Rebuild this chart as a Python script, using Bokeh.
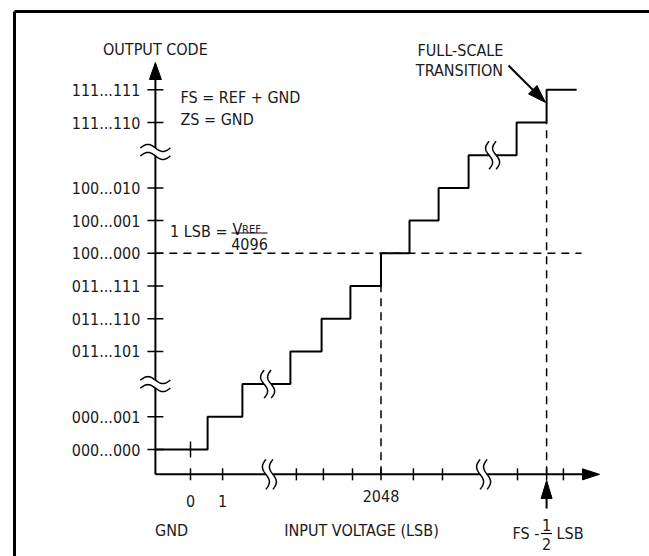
import numpy as np
from bokeh.plotting import figure
from bokeh.models import Range1d
from bokeh.core.properties import value
from bokeh.embed import file_html
from bokeh.resources import INLINE

# ---------------- data (diagram units: x = input LSB slot, y = output code slot) ----------------
code_labels = ["111...111", "111...110", "100...010", "100...001", "100...000",
               "011...111", "011...110", "011...101", "000...001", "000...000"]
code_slots = [11, 10, 8, 7, 6, 5, 4, 3, 1, 0]

x_tick_slots = [0, 1.07, 3.53, 4.43, 5.4, 6.35, 7.43, 8.4, 10.9, 11.87, 12.43]
x_label_slots = [0, 1.07, 6.35]
x_label_texts = ["0", "1", "2048"]

step_edges = [0.57, 1.73, 3.33, 4.37, 5.33, 6.35, 7.3, 8.27, 9.27, 10.87, 11.87]
step_levels = [0, 1, 2, 3, 4, 5, 6, 7, 8, 9, 10, 11]
step_end = 12.87

y_axis_x = -1.17
x_axis_y = -0.76
y_axis_breaks = [2.0, 9.1]
x_axis_breaks = [2.63, 9.77]
step_break_x = [2.57, 10.07]
step_break_level = [2, 9]

midscale_code = 6      # 100...000
midscale_input = 6.35  # 2048
fs_input = 11.87       # FS - 1/2 LSB
fs_code = 10

# ---------------- layout helpers ----------------
W, H = 649, 556
PXX, PXY = 30.0, 32.7          # pixels per diagram unit
ORX, ORY = 190.0, 449.0        # canvas pixel of (0, 0)


def dx(px):
    return px / PXX


def dy(px):
    return px / PXY


def X(px):  # canvas pixel -> data
    return (px - ORX) / PXX


def Y(py):
    return (ORY - py) / PXY


FONT = value("DejaVu Sans Condensed, Roboto")
FS = "16px"
TC = "#1a1a1a"

p = figure(width=W, height=H, x_range=Range1d(-ORX / PXX, (W - ORX) / PXX),
           y_range=Range1d((ORY - H) / PXY, ORY / PXY),
           toolbar_location=None, output_backend="svg",
           x_axis_type=None, y_axis_type=None, min_border=0)
p.grid.visible = False
p.outline_line_color = None
p.background_fill_color = "white"

K = "black"

# frame border (top and left visible)
p.segment(x0=[X(14), X(14)], y0=[Y(11), Y(11)], x1=[X(720), X(14)], y1=[Y(11), Y(620)],
          line_color=K, line_width=3)

# staircase
sx, sy = [y_axis_x], [step_levels[0]]
for e, lo, hi in zip(step_edges, step_levels[:-1], step_levels[1:]):
    sx += [e, e]
    sy += [lo, hi]
sx.append(step_end)
sy.append(step_levels[-1])
p.line(sx, sy, line_color=K, line_width=2)

# dashed guides
p.segment(x0=[y_axis_x, midscale_input, fs_input],
          y0=[midscale_code, x_axis_y, x_axis_y],
          x1=[X(581), midscale_input, fs_input],
          y1=[midscale_code, midscale_code, fs_code],
          line_color=K, line_width=1.5, line_dash="8 6")

# axes
p.segment(x0=[y_axis_x, y_axis_x], y0=[x_axis_y, x_axis_y],
          x1=[y_axis_x, X(588)], y1=[Y(72), x_axis_y], line_color=K, line_width=2)
# arrow heads
p.patches(xs=[[y_axis_x, y_axis_x - dx(6), y_axis_x + dx(6)],
              [X(599), X(582), X(582)],
              [fs_input, fs_input - dx(5.5), fs_input + dx(5.5)]],
          ys=[[Y(62), Y(79), Y(79)],
              [x_axis_y, x_axis_y + dy(5.5), x_axis_y - dy(5.5)],
              [Y(480), Y(498), Y(498)]],
          fill_color=K, line_color=K, line_width=1)
p.segment(x0=[fs_input], y0=[Y(497)], x1=[fs_input], y1=[Y(508)], line_color=K, line_width=2)

# y ticks and labels
p.segment(x0=[y_axis_x - dx(8)] * len(code_slots), y0=code_slots,
          x1=[y_axis_x + dx(8)] * len(code_slots), y1=code_slots, line_color=K, line_width=1.5)
p.text(x=[y_axis_x - dx(15)] * len(code_slots), y=code_slots, text=code_labels,
       text_font=FONT, text_font_size=FS, text_align="right", text_baseline="middle", text_color=TC)

# x ticks and labels
p.segment(x0=x_tick_slots, y0=[x_axis_y - dy(6)] * len(x_tick_slots),
          x1=x_tick_slots, y1=[x_axis_y + dy(6)] * len(x_tick_slots), line_color=K, line_width=1.5)
p.segment(x0=[0], y0=[step_levels[0] - dy(8)], x1=[0], y1=[step_levels[0] + dy(8)],
          line_color=K, line_width=1.5)
p.text(x=x_label_slots, y=[Y(500), Y(500), Y(495)], text=x_label_texts,
       text_font=FONT, text_font_size=FS, text_align="center", text_baseline="middle", text_color=TC)


# break symbols
def vbreak(cx, cy, h_px=30, gap_px=7, amp_px=3.5):
    t = np.linspace(0, 1, 41)
    ys = cy + dy(h_px) * (t - 0.5)
    off = dx(amp_px) * np.sin(2 * np.pi * t)
    xl = cx - dx(gap_px / 2) + off
    xr = cx + dx(gap_px / 2) + off
    p.patch(np.concatenate([xl, xr[::-1]]), np.concatenate([ys, ys[::-1]]),
            fill_color="white", line_color=None)
    p.multi_line([list(xl), list(xr)], [list(ys), list(ys)], line_color=K, line_width=1.5)


def hbreak(cx, cy, w_px=30, gap_px=8, amp_px=3.5):
    t = np.linspace(0, 1, 41)
    xs = cx + dx(w_px) * (t - 0.5)
    off = dy(amp_px) * np.sin(2 * np.pi * t)
    yl = cy - dy(gap_px / 2) + off
    yu = cy + dy(gap_px / 2) + off
    p.patch(np.concatenate([xs, xs[::-1]]), np.concatenate([yl, yu[::-1]]),
            fill_color="white", line_color=None)
    p.multi_line([list(xs), list(xs)], [list(yl), list(yu)], line_color=K, line_width=1.5)


for b in y_axis_breaks:
    hbreak(y_axis_x, b)
for b in x_axis_breaks:
    vbreak(b, x_axis_y)
for bx, bl in zip(step_break_x, step_break_level):
    vbreak(bx, bl, h_px=28)


def txt(x, y, s, align="center", size=FS, baseline="middle"):
    p.text(x=[x], y=[y], text=[s], text_font=FONT, text_font_size=size,
           text_align=align, text_baseline=baseline, text_color=TC)


txt(y_axis_x, Y(49), "OUTPUT CODE")
txt(X(180), Y(97), "FS = REF + GND", align="left")
txt(X(180), Y(118.5), "ZS = GND", align="left")
txt(X(227), Y(231), "1 LSB =", align="right")
txt(X(232), Y(229), "V", align="left", baseline="alphabetic")
txt(X(241.5), Y(229), "REF", align="left", size="11px", baseline="alphabetic")
p.segment(x0=[X(231)], y0=[Y(232.5)], x1=[X(267)], y1=[Y(232.5)], line_color=K, line_width=1.2)
txt(X(249), Y(243), "4096")

txt(X(460), Y(50), "FULL-SCALE")
txt(X(459), Y(70), "TRANSITION")
# pointer arrow
ax0, ay0, ax1, ay1 = 508.0, 65.0, 545.0, 102.0
vx, vy = ax1 - ax0, ay1 - ay0
L = np.hypot(vx, vy)
ux, uy = vx / L, vy / L
bx, by = ax1 - 18 * ux, ay1 - 18 * uy
p.segment(x0=[X(ax0)], y0=[Y(ay0)], x1=[X(bx)], y1=[Y(by)], line_color=K, line_width=2)
p.patch([X(ax1), X(bx - 6 * uy), X(bx + 6 * uy)], [Y(ay1), Y(by + 6 * ux), Y(by - 6 * ux)],
        fill_color=K, line_color=K)

txt(X(171), Y(530), "GND")
txt(X(361), Y(529.5), "INPUT VOLTAGE (LSB)")
txt(X(539), Y(533), "FS -", align="right")
txt(fs_input, Y(524), "1")
p.segment(x0=[fs_input - dx(5.5)], y0=[Y(533)], x1=[fs_input + dx(5.5)], y1=[Y(533)],
          line_color=K, line_width=1.2)
txt(fs_input, Y(543), "2")
txt(X(556), Y(533), "LSB", align="left")

open("out.html", "w").write(file_html(p, INLINE))
